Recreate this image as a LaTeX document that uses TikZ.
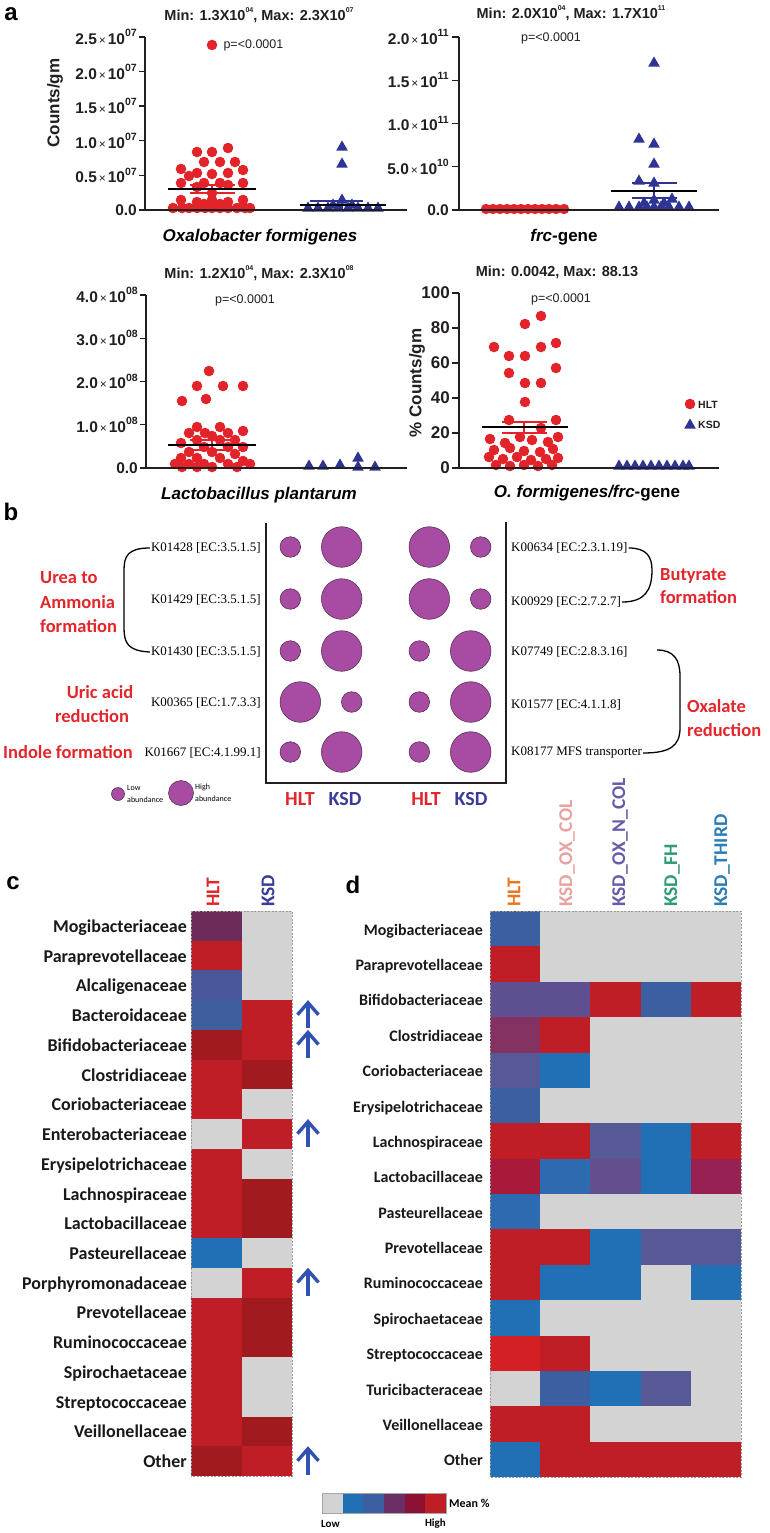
\documentclass[tikz,border=0pt]{standalone}
\usepackage{fontspec}
\setmainfont{Liberation Sans}
\newfontfamily\serk{Liberation Serif}
\newfontfamily\carl{Carlito}
\definecolor{txt}{HTML}{231F20}
\definecolor{hltred}{HTML}{E3232A}
\definecolor{kblue}{HTML}{2E3494}
\definecolor{bub}{HTML}{A84BA2}
\definecolor{bubedge}{HTML}{4A2A48}
\definecolor{grpred}{HTML}{E2262B}
\definecolor{ksdblue}{HTML}{3B3B9C}
\definecolor{arrb}{HTML}{3052B2}
\definecolor{hg}{HTML}{D3D3D3}
\definecolor{hr}{HTML}{C01E26}
\definecolor{hdr}{HTML}{A01A20}
\definecolor{hb}{HTML}{2170B6}
\definecolor{hbb}{HTML}{2E6AB0}
\definecolor{hdb}{HTML}{3B5FA0}
\definecolor{hsl}{HTML}{5E5090}
\definecolor{hsl2}{HTML}{575896}
\definecolor{hplum}{HTML}{833262}
\definecolor{hcrim}{HTML}{A8193A}
\definecolor{hpur}{HTML}{644F8E}
\definecolor{hmag}{HTML}{972152}
\definecolor{hbr}{HTML}{D42025}
\definecolor{hpm}{HTML}{6C2B5A}
\definecolor{hslb}{HTML}{475799}
\definecolor{hsb}{HTML}{3F5E9E}
\definecolor{legp}{HTML}{6B2E66}
\definecolor{legc}{HTML}{8C1235}
\definecolor{lhlt}{HTML}{E87722}
\definecolor{lox}{HTML}{E8A3A0}
\definecolor{loxn}{HTML}{6A5BA8}
\definecolor{lfh}{HTML}{2E9A78}
\definecolor{lthird}{HTML}{2A7DB5}
\newcommand\tms{{\mdseries\fontsize{12}{12}\selectfont\,×\,}}
\newcommand\sps[1]{\raisebox{0.5em}{\fontsize{10.5}{10.5}\selectfont #1}}
\newcommand\spt[1]{\raisebox{0.55em}{\fontsize{7}{7}\selectfont #1}}
\begin{document}
\begin{tikzpicture}[x=1pt,y=-1pt,
 ttl/.style={font=\fontsize{14.5}{14.5}\selectfont\bfseries,text=txt},
 tick/.style={font=\fontsize{15.5}{15.5}\selectfont\bfseries,text=txt,anchor=east,inner sep=0},
 pval/.style={font=\fontsize{12.5}{12.5}\selectfont,text=txt},
 xlab/.style={font=\fontsize{17}{17}\selectfont\bfseries\itshape,text=black},
 ylab/.style={font=\fontsize{17}{17}\selectfont\bfseries,text=txt,rotate=90},
 axl/.style={draw=txt,line width=1.4pt},
 meanl/.style={draw=black,line width=1.1pt},
 semr/.style={draw=hltred,line width=1.1pt},
 semb/.style={draw=kblue,line width=1.1pt},
 plet/.style={font=\fontsize{24}{24}\selectfont\bfseries,text=black},
 klab/.style={font=\serk\fontsize{13}{13}\selectfont,text=black,inner sep=1pt},
 grp/.style={font=\carl\bfseries\fontsize{18.5}{18.5}\selectfont,text=grpred,inner sep=0,anchor=base west},
 bubs/.style={fill=bub,draw=bubedge,line width=0.5pt},
 grpl/.style={font=\carl\bfseries\fontsize{20}{20}\selectfont,inner sep=0,anchor=base},
 rowc/.style={font=\carl\bfseries\fontsize{18}{18}\selectfont,anchor=base east,inner sep=0,text=black!90},
 rowd/.style={font=\carl\bfseries\fontsize{16}{16}\selectfont,anchor=base east,inner sep=0,text=black!90},
 coll/.style={font=\carl\bfseries\fontsize{19.5}{19.5}\selectfont,rotate=90,anchor=west,inner sep=0},
 brk/.style={draw=black,line width=1.3pt},
 hdash/.style={draw=gray!80,line width=0.6pt,dash pattern=on 2pt off 1.5pt},
 upar/.style={draw=arrb,line width=3.4pt}
]
\useasboundingbox (0,0) rectangle (769,1533);
\fill[white] (0,0) rectangle (769,1533);

% ================= panel a =================
\node[plet] (la) at (11,14) {a};

% ---- top-left ----
\node[ttl] (t1) at (259,15) {Min: 1.3X10\spt{04}, Max: 2.3X10\spt{07}};
\foreach \p in {{197,152},{212,152},{228,148},{204,162},{220,162},{235,162},{181,169},{243,170},{189,176},{197,173},{212,174},{228,173},{181,183},{204,183},{220,183},{243,183},{197,187},{228,185},{212,193},{181,200},{197,202},{212,200},{228,202},{243,200},{173,208},{182,208},{189,208},{197,208},{205,208},{212,208},{220,208},{228,208},{237,208},{245,208},{250,208},{204,204},{220,204},{212,205}}
  \fill[hltred] (\p) circle (5.3);
\draw[semr] (190,185) -- (235,185) (190,193) -- (235,193) (212,185) -- (212,193);
\draw[meanl] (168,189) -- (256,189);
\foreach \p in {{342,146},{342,163},{342,199},{308,207},{318,207},{328,207},{338,207},{348,207},{358,207},{368,207},{378,207},{333,204},{352,204}}
  \fill[kblue,shift={(\p)}] (-5.8,4.6) -- (5.8,4.6) -- (0,-5.6) -- cycle;
\draw[semb] (310,201) -- (363,201) (342,201) -- (342,210);
\draw[meanl] (300,205) -- (386,205);
\draw[axl] (145,37) -- (145,210) -- (407,210);
\foreach \yy/\lab [count=\i] in {37/2.5,71.6/2.0,106.2/1.5,140.8/1.0,175.4/0.5}{
  \draw[axl] (139,\yy) -- (145,\yy);
  \node[tick] (tla\i) at (137,\yy) {\lab\tms10\sps{07}};
}
\draw[axl] (139,210) -- (145,210);
\node[tick] (tla0) at (137,210) {0.0};
\node[ylab] (yl1) at (55,103) {Counts/gm};
\fill[hltred] (212,45) circle (5.3);
\node[pval,anchor=west] (p1) at (220,45) {p=<0.0001};
\node[xlab] (x1) at (260,237) {Oxalobacter formigenes};

% ---- top-right ----
\node[ttl] (t2) at (571,13) {Min: 2.0X10\spt{04}, Max: 1.7X10\spt{11}};
\foreach \x in {486,493,500,507,514,521,528,535,542,549,556,564}
  \fill[hltred] (\x,209) circle (5.2);
\foreach \p in {{654,62},{639,138},{654,143},{654,163},{639,180},{654,182},{672,198},{619,206},{629,206},{639,206},{647,206},{654,206},{661,206},{669,206},{679,206},{689,206},{654,199},{644,202},{664,202}}
  \fill[kblue,shift={(\p)}] (-5.8,4.6) -- (5.8,4.6) -- (0,-5.6) -- cycle;
\draw[semb] (632,183) -- (677,183) (632,198) -- (677,198) (654,183) -- (654,198);
\draw[meanl] (611,191) -- (697,191);
\draw[axl] (459,37) -- (459,210) -- (719,210);
\foreach \yy/\lab/\ex [count=\i] in {37/2.0/11,80.25/1.5/11,123.5/1.0/11,166.75/5.0/10}{
  \draw[axl] (452,\yy) -- (459,\yy);
  \node[tick] (tra\i) at (449,\yy) {\lab\tms10\sps{\ex}};
}
\draw[axl] (452,210) -- (459,210);
\node[tick] (tra0) at (449,210) {0.0};
\node[pval] (p2) at (551,38) {p=<0.0001};
\node[xlab] (x2) at (564,237) {frc\textup{-gene}};

% ---- bottom-left ----
\node[ttl] (t3) at (259,273) {Min: 1.2X10\spt{04}, Max: 2.3X10\spt{08}};
\foreach \p in {{209,371},{197,386},{223,386},{243,386},{182,401},{206,399},{197,427},{220,427},{243,431},{189,433},{205,433},{212,436},{228,433},{181,443},{197,440},{220,440},{235,440},{243,447},{204,447},{228,447},{189,452},{212,452},{235,454},{181,458},{197,458},{220,458},{243,461},{175,464},{189,464},{204,464},{228,464},{250,464},{182,467},{197,467},{212,467},{237,467}}
  \fill[hltred] (\p) circle (5.3);
\draw[semr] (190,440) -- (233,440) (190,450) -- (233,450) (212,440) -- (212,450);
\draw[meanl] (168,445) -- (256,445);
\foreach \p in {{309,465},{323,465},{340,464},{358,457},{358,466},{375,466}}
  \fill[kblue,shift={(\p)}] (-5.8,4.6) -- (5.8,4.6) -- (0,-5.6) -- cycle;
\draw[axl] (146,295) -- (146,468) -- (407,468);
\foreach \yy/\lab [count=\i] in {295/4.0,338.25/3.0,381.5/2.0,424.75/1.0}{
  \draw[axl] (140,\yy) -- (146,\yy);
  \node[tick] (bla\i) at (138,\yy) {\lab\tms10\sps{08}};
}
\draw[axl] (140,468) -- (146,468);
\node[tick] (bla0) at (138,468) {0.0};
\node[pval] (p3) at (245,300) {p=<0.0001};
\node[xlab] (x3) at (259,495) {Lactobacillus plantarum};

% ---- bottom-right ----
\node[ttl] (t4) at (557,272) {Min: 0.0042, Max: 88.13};
\foreach \p in {{541,316},{525,324},{494,347},{509,356},{525,356},{541,347},{556,343},{509,373},{556,368},{525,383},{541,383},{525,402},{509,420},{556,420},{541,428},{490,439},{505,443},{520,437},{532,440},{548,442},{558,437},{494,450},{510,448},{524,451},{540,452},{553,449},{489,457},{503,459},{517,457},{531,460},{546,459},{558,458},{496,465},{510,466},{524,465},{538,466},{552,465}}
  \fill[hltred] (\p) circle (5.3);
\draw[semr] (502,422) -- (547,422) (502,433) -- (547,433) (524,422) -- (524,433);
\draw[meanl] (482,427) -- (568,427);
\foreach \x in {619,627,635,643,651,659,667,675,683,689}
  \fill[kblue,shift={(\x,465)}] (-5.8,4.6) -- (5.8,4.6) -- (0,-5.6) -- cycle;
\draw[axl] (459,293) -- (459,468) -- (719,468);
\foreach \yy/\lab [count=\i] in {293/100,328/80,363/60,398/40,433/20,468/0}{
  \draw[axl] (452,\yy) -- (459,\yy);
  \node[tick,font=\fontsize{17}{17}\selectfont\bfseries] (bra\i) at (450,\yy) {\lab};
}
\node[ylab] (yl4) at (417,383) {\% Counts/gm};
\node[pval] (p4) at (561,299) {p=<0.0001};
\fill[hltred] (690,404) circle (5.3);
\node[font=\fontsize{10.5}{10.5}\selectfont\bfseries,text=txt,anchor=west,inner sep=1pt] (lh) at (697,405) {HLT};
\fill[kblue,shift={(690,424)}] (-5.8,4.6) -- (5.8,4.6) -- (0,-5.6) -- cycle;
\node[font=\fontsize{10.5}{10.5}\selectfont\bfseries,text=txt,anchor=west,inner sep=1pt] (lk) at (697,425) {KSD};
\node[xlab] (x4) at (587,493) {O. formigenes/frc\textup{-gene}};

% ================= panel b =================
\node[plet] (lb) at (11,512) {b};
\draw[line width=1.6pt,draw=txt] (266,523) -- (266,783) -- (506,783) -- (506,522);
% bubbles
\foreach \yy in {547,599}{
  \filldraw[bubs] (290.3,\yy) circle (10.3);
  \filldraw[bubs] (341.7,\yy) circle (20.3);
  \filldraw[bubs] (429.3,\yy) circle (20.3);
  \filldraw[bubs] (480.7,\yy) circle (10.3);
}
\filldraw[bubs] (290.3,651) circle (10.3);
\filldraw[bubs] (341.7,651) circle (20.3);
\filldraw[bubs] (419.3,651) circle (10.3);
\filldraw[bubs] (470.7,651) circle (20.3);
\filldraw[bubs] (300.3,702) circle (20.3);
\filldraw[bubs] (351.7,702) circle (10.3);
\filldraw[bubs] (419.3,702) circle (10.3);
\filldraw[bubs] (470.7,702) circle (20.3);
\filldraw[bubs] (290.3,752) circle (10.3);
\filldraw[bubs] (341.7,752) circle (20.3);
\filldraw[bubs] (419.3,752) circle (10.3);
\filldraw[bubs] (470.7,752) circle (20.3);
% K labels
\node[klab,anchor=east] (k1) at (262,548) {K01428 [EC:3.5.1.5]};
\node[klab,anchor=east] (k2) at (262,600) {K01429 [EC:3.5.1.5]};
\node[klab,anchor=east] (k3) at (262,652) {K01430 [EC:3.5.1.5]};
\node[klab,anchor=east] (k4) at (262,703) {K00365 [EC:1.7.3.3]};
\node[klab,anchor=east] (k5) at (262,753) {K01667 [EC:4.1.99.1]};
\node[klab,anchor=west] (k6) at (510,548) {K00634 [EC:2.3.1.19]};
\node[klab,anchor=west] (k7) at (510,602) {K00929 [EC:2.7.2.7]};
\node[klab,anchor=west] (k8) at (510,652) {K07749 [EC:2.8.3.16]};
\node[klab,anchor=west] (k9) at (510,705) {K01577 [EC:4.1.1.8]};
\node[klab,anchor=west] (k10) at (510,753) {K08177 MFS transporter};
% brackets
\draw[brk] (k1.west) .. controls (128,548) and (124,556) .. (124,570) -- (124,628) .. controls (124,643) and (128,651) .. (k3.west);
\draw[brk] (k6.east) .. controls (646,548) and (652,556) .. (652,570) .. controls (652,590) and (645,602) .. (k7.east);
\coordinate (ox1) at (657,650);
\draw[brk] (ox1) .. controls (674,650) and (680,660) .. (680,676) -- (680,728) .. controls (680,746) and (670,753) .. (k10.east);
% group labels
\node[grp] (g1a) at (40,583) {Urea to};
\node[grp] (g1b) at (40,608) {Ammonia};
\node[grp] (g1c) at (40,632) {formation};
\node[grp,anchor=base] (g2a) at (100,698) {Uric acid};
\node[grp,anchor=base] (g2b) at (92,722) {reduction};
\node[grp] (g3) at (3,758) {Indole formation};
\node[grp] (g4a) at (660,580) {Butyrate};
\node[grp] (g4b) at (660,603) {formation};
\node[grp] (g5a) at (687,712) {Oxalate};
\node[grp] (g5b) at (687,736) {reduction};
% abundance legend
\filldraw[bubs] (118,794) circle (6.5);
\node[font=\carl\fontsize{8}{8}\selectfont,anchor=west,inner sep=0] (al1) at (127,788) {Low};
\node[font=\carl\fontsize{8}{8}\selectfont,anchor=west,inner sep=0] (al2) at (127,800) {abundance};
\filldraw[bubs] (181,793) circle (12.5);
\node[font=\carl\fontsize{8}{8}\selectfont,anchor=west,inner sep=0] (ah1) at (195,787) {High};
\node[font=\carl\fontsize{8}{8}\selectfont,anchor=west,inner sep=0] (ah2) at (195,799) {abundance};
% HLT KSD
\node[grpl,text=grpred] (bh1) at (300,805) {HLT};
\node[grpl,text=ksdblue] (bk1) at (345,805) {KSD};
\node[grpl,text=grpred] (bh2) at (426,805) {HLT};
\node[grpl,text=ksdblue] (bk2) at (471,805) {KSD};

% ================= panel c =================
\node[plet] (lc) at (13,883) {c};
\node[coll,text=grpred] (ch) at (213,907) {HLT};
\node[coll,text=ksdblue] (ck) at (268,907) {KSD};
\foreach \nm/\ca/\cb [count=\i from 0] in {Mogibacteriaceae/hpm/hg,Paraprevotellaceae/hr/hg,Alcaligenaceae/hslb/hg,Bacteroidaceae/hsb/hr,Bifidobacteriaceae/hdr/hr,Clostridiaceae/hr/hdr,Coriobacteriaceae/hr/hg,Enterobacteriaceae/hg/hr,Erysipelotrichaceae/hr/hg,Lachnospiraceae/hr/hdr,Lactobacillaceae/hr/hdr,Pasteurellaceae/hb/hg,Porphyromonadaceae/hg/hr,Prevotellaceae/hr/hdr,Ruminococcaceae/hr/hdr,Spirochaetaceae/hr/hg,Streptococcaceae/hr/hg,Veillonellaceae/hr/hdr,Other/hdr/hr}{
  \pgfmathsetmacro\ya{911+\i*29.737}
  \pgfmathsetmacro\yb{911+(\i+1)*29.737}
  \pgfmathsetmacro\ym{911+(\i+0.5)*29.737+6.5}
  \fill[\ca] (191,\ya) rectangle (241.5,\yb);
  \fill[\cb] (241.5,\ya) rectangle (292,\yb);
  \node[rowc] (cr\i) at (187,\ym) {\nm};
}
\draw[hdash] (191,911) rectangle (292,1476);
\foreach \r in {3,4,7,12,18}{
  \pgfmathsetmacro\ya{911+\r*29.737+2.5}
  \pgfmathsetmacro\yb{911+(\r+1)*29.737-1.5}
  \draw[upar] (308,{\ya+2}) -- (308,\yb);
  \draw[upar,line join=miter] (297.5,{\ya+12}) -- (308,\ya) -- (318.5,{\ya+12});
}

% ================= panel d =================
\node[plet] (ld) at (353,885) {d};
\node[coll,text=lhlt] (dc1) at (514,907) {HLT};
\node[coll,text=lox] (dc2) at (567,907) {KSD\_OX\_COL};
\node[coll,text=loxn] (dc3) at (620,907) {KSD\_OX\_N\_COL};
\node[coll,text=lfh] (dc4) at (672,907) {KSD\_FH};
\node[coll,text=lthird] (dc5) at (722,907) {KSD\_THIRD};
\foreach \nm/\ca/\cb/\cc/\cd/\ce [count=\i from 0] in {Mogibacteriaceae/hdb/hg/hg/hg/hg,Paraprevotellaceae/hr/hg/hg/hg/hg,Bifidobacteriaceae/hsl/hsl/hr/hdb/hr,Clostridiaceae/hplum/hr/hg/hg/hg,Coriobacteriaceae/hsl2/hb/hg/hg/hg,Erysipelotrichaceae/hdb/hg/hg/hg/hg,Lachnospiraceae/hr/hr/hsl2/hb/hr,Lactobacillaceae/hcrim/hbb/hpur/hb/hmag,Pasteurellaceae/hbb/hg/hg/hg/hg,Prevotellaceae/hr/hr/hb/hsl2/hsl2,Ruminococcaceae/hr/hb/hb/hg/hb,Spirochaetaceae/hb/hg/hg/hg/hg,Streptococcaceae/hbr/hr/hg/hg/hg,Turicibacteraceae/hg/hdb/hb/hsl2/hg,Veillonellaceae/hr/hr/hg/hg/hg,Other/hb/hr/hr/hr/hr}{
  \pgfmathsetmacro\ya{911+\i*35.375}
  \pgfmathsetmacro\yb{911+(\i+1)*35.375}
  \pgfmathsetmacro\ym{911+(\i+0.5)*35.375+6.5}
  \foreach \cl [count=\j from 0] in {\ca,\cb,\cc,\cd,\ce}{
    \fill[\cl] ({490+\j*50.2},\ya) rectangle ({490+(\j+1)*50.2},\yb);
  }
  \node[rowd] (dr\i) at (483,\ym) {\nm};
}
\draw[hdash] (490,911) rectangle (741,1477);

% legend
\foreach \cl [count=\j from 0] in {hg,hb,hdb,legp,legc,hr}{
  \fill[\cl] ({322+\j*20.67},1493) rectangle ({322+(\j+1)*20.67},1513);
}
\draw[gray!70,line width=0.6pt] (322,1493) rectangle (446,1513);
\node[font=\carl\bfseries\fontsize{12}{12}\selectfont,anchor=west,inner sep=0] (mp) at (449,1503) {Mean \%};
\node[font=\carl\bfseries\fontsize{11}{11}\selectfont,anchor=west,inner sep=0] (lo) at (321,1524) {Low};
\node[font=\carl\bfseries\fontsize{11}{11}\selectfont,anchor=east,inner sep=0] (hi) at (446,1524) {High};
\end{tikzpicture}
\end{document}
